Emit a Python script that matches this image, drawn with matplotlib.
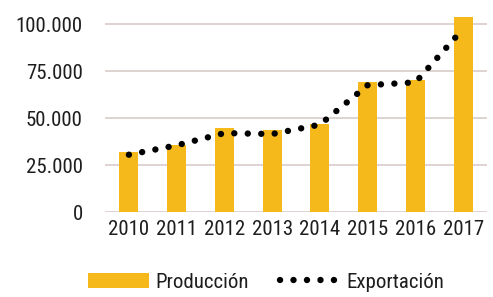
import matplotlib
matplotlib.use("Agg")
import matplotlib.pyplot as plt
import numpy as np

# valores
years = ["2010", "2011", "2012", "2013", "2014", "2015", "2016", "2017"]
produccion = [32000, 35500, 44500, 43500, 47000, 69000, 70000, 103500]
exportacion = [30500, 35500, 42000, 41500, 46500, 67500, 69000, 97500]
yticks = [0, 25000, 50000, 75000, 100000]
ylabels = ["0", "25.000", "50.000", "75.000", "100.000"]

plt.rcParams['font.family'] = ['Roboto Condensed', 'DejaVu Sans']

fig = plt.figure(figsize=(4.93, 2.97), dpi=100)
ax = fig.add_axes([0.213, 0.286, 0.775, 0.671])

x = np.arange(len(years))
bars = ax.bar(x, produccion, width=0.4, color="#F6B91C", label="Producción", zorder=2)
line, = ax.plot(x, exportacion, color="black", linewidth=4.6,
                linestyle=(0, (0.01, 2.1)), dash_capstyle="round",
                label="Exportación", zorder=3)

ax.set_xlim(-0.5, 7.5)
ax.set_ylim(0, 106000)
ax.set_yticks(yticks)
ax.set_yticklabels(ylabels)
ax.set_xticks(x)
ax.set_xticklabels(years)
ax.tick_params(axis="both", length=0, labelsize=15, colors="#1E1E1E")
ax.tick_params(axis="y", pad=16)
ax.tick_params(axis="x", pad=6)
ax.grid(axis="y", color="#D8CDC9", linewidth=1.2, zorder=0)
ax.set_axisbelow(True)
for s in ax.spines.values():
    s.set_visible(False)

fig.legend(handles=[bars, line], loc="center", bbox_to_anchor=(0.54, 0.05),
           ncol=2, frameon=False, fontsize=15, handlelength=2.9,
           handletextpad=0.3, columnspacing=1.5, labelcolor="#1E1E1E")

fig.savefig("out.png", dpi=100)
